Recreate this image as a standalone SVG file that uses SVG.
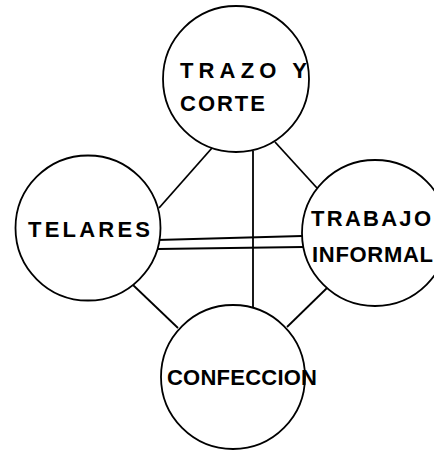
<svg xmlns="http://www.w3.org/2000/svg" width="434" height="451" viewBox="0 0 434 451">
<style>
.node circle{fill:#fff;stroke:#000;stroke-width:1.8}
.node text{font-family:"Liberation Sans",Arial,sans-serif;font-size:22px;font-weight:bold;fill:#000}
#connectors line{stroke:#000;stroke-width:1.8;fill:none}
</style>
<rect width="434" height="451" fill="#fff"/>
<g id="connectors">
<line x1="212" y1="148" x2="159" y2="208"/>
<line x1="275" y1="142" x2="317" y2="188"/>
<line x1="253" y1="151" x2="253" y2="313"/>
<line x1="157" y1="240" x2="302" y2="236"/>
<line x1="158" y1="249" x2="303" y2="247"/>
<line x1="133" y1="285" x2="178" y2="328"/>
<line x1="327" y1="288" x2="287" y2="327"/>
</g>
<g id="node-trazo" class="node">
<circle cx="236" cy="79" r="73" fill="none"/>
<text x="180" y="78" textLength="127" lengthAdjust="spacing">TRAZO Y</text>
<text x="180" y="111" textLength="85" lengthAdjust="spacing">CORTE</text>
</g>
<g id="node-telares" class="node">
<circle cx="88" cy="228" r="72.5" fill="none"/>
<text x="28" y="237" textLength="122" lengthAdjust="spacing">TELARES</text>
</g>
<g id="node-trabajo" class="node">
<circle cx="375" cy="233" r="73" fill="none"/>
<text x="311" y="226" textLength="120" lengthAdjust="spacing">TRABAJO</text>
<text x="312" y="262" textLength="121" lengthAdjust="spacing">INFORMAL</text>
</g>
<g id="node-confeccion" class="node">
<circle cx="233" cy="377" r="72" fill="none"/>
<text x="167" y="385" textLength="150" lengthAdjust="spacing">CONFECCION</text>
</g>
</svg>
